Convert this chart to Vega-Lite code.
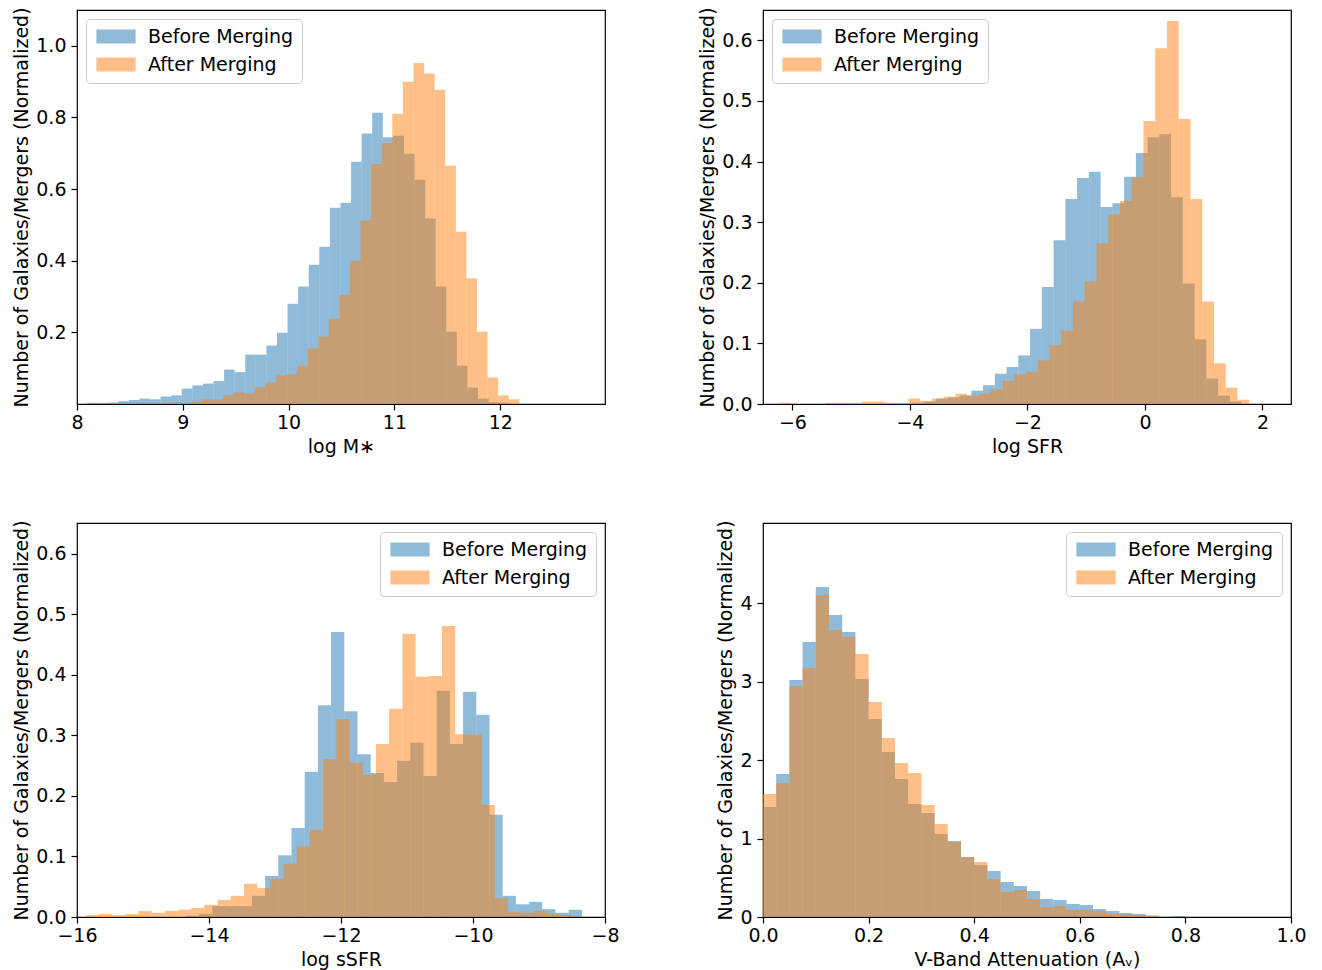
{
  "$schema": "https://vega.github.io/schema/vega-lite/v6.json",
  "background": "white",
  "padding": {"left": 12, "top": 6, "right": 5, "bottom": 5},
  "bounds": "flush",
  "columns": 2,
  "spacing": {"row": 119, "column": 158},
  "resolve": {"scale": {"color": "independent"}, "legend": {"color": "independent"}},
  "config": {
    "font": "DejaVu Sans",
    "view": {"stroke": "black", "strokeWidth": 1.2},
    "axis": {"grid": false, "domain": false, "labelFlush": false, "labelOverlap": false, "tickColor": "black", "tickSize": 6, "tickWidth": 1.2, "labelFont": "DejaVu Sans", "labelFontSize": 19, "labelColor": "black", "titleFont": "DejaVu Sans", "titleFontSize": 19, "titleFontWeight": "normal", "titleColor": "black", "labelPadding": 5},
    "axisX": {"titlePadding": 5, "labelPadding": 3},
    "axisY": {"titlePadding": 4},
    "legend": {"title": null, "labelFont": "DejaVu Sans", "labelFontSize": 19, "labelColor": "black", "fillColor": "white", "strokeColor": "#cccccc", "cornerRadius": 4, "padding": 8, "symbolType": "M-2.8,-1H2.8V1H-2.8Z", "symbolSize": 196, "symbolStrokeWidth": 0, "symbolOpacity": 0.5, "symbolOffset": 12.5, "labelOffset": 22.5, "rowPadding": 8, "offset": 9}
  },
  "concat": [
    {
      "width": 528, "height": 394,
      "data": {"values": [
        {"s":"Before Merging","a":8.09,"b":8.19,"v":0.003},{"s":"Before Merging","a":8.19,"b":8.29,"v":0.003},{"s":"Before Merging","a":8.29,"b":8.39,"v":0.004},{"s":"Before Merging","a":8.39,"b":8.49,"v":0.008},{"s":"Before Merging","a":8.49,"b":8.59,"v":0.011},{"s":"Before Merging","a":8.59,"b":8.69,"v":0.015},{"s":"Before Merging","a":8.69,"b":8.79,"v":0.013},{"s":"Before Merging","a":8.79,"b":8.89,"v":0.021},{"s":"Before Merging","a":8.89,"b":8.99,"v":0.024},{"s":"Before Merging","a":8.99,"b":9.09,"v":0.043},
        {"s":"Before Merging","a":9.09,"b":9.19,"v":0.052},{"s":"Before Merging","a":9.19,"b":9.29,"v":0.057},{"s":"Before Merging","a":9.29,"b":9.39,"v":0.064},{"s":"Before Merging","a":9.39,"b":9.49,"v":0.096},{"s":"Before Merging","a":9.49,"b":9.59,"v":0.089},{"s":"Before Merging","a":9.59,"b":9.69,"v":0.138},{"s":"Before Merging","a":9.69,"b":9.79,"v":0.138},{"s":"Before Merging","a":9.79,"b":9.89,"v":0.163},{"s":"Before Merging","a":9.89,"b":9.99,"v":0.199},{"s":"Before Merging","a":9.99,"b":10.09,"v":0.280},
        {"s":"Before Merging","a":10.09,"b":10.19,"v":0.328},{"s":"Before Merging","a":10.19,"b":10.29,"v":0.389},{"s":"Before Merging","a":10.29,"b":10.39,"v":0.439},{"s":"Before Merging","a":10.39,"b":10.49,"v":0.548},{"s":"Before Merging","a":10.49,"b":10.59,"v":0.562},{"s":"Before Merging","a":10.59,"b":10.69,"v":0.676},{"s":"Before Merging","a":10.69,"b":10.79,"v":0.755},{"s":"Before Merging","a":10.79,"b":10.89,"v":0.813},{"s":"Before Merging","a":10.89,"b":10.99,"v":0.745},{"s":"Before Merging","a":10.99,"b":11.09,"v":0.749},
        {"s":"Before Merging","a":11.09,"b":11.19,"v":0.699},{"s":"Before Merging","a":11.19,"b":11.29,"v":0.626},{"s":"Before Merging","a":11.29,"b":11.39,"v":0.518},{"s":"Before Merging","a":11.39,"b":11.49,"v":0.328},{"s":"Before Merging","a":11.49,"b":11.59,"v":0.202},{"s":"Before Merging","a":11.59,"b":11.69,"v":0.107},{"s":"Before Merging","a":11.69,"b":11.79,"v":0.046},{"s":"Before Merging","a":11.79,"b":11.89,"v":0.015},{"s":"Before Merging","a":11.89,"b":11.99,"v":0.005},{"s":"Before Merging","a":11.99,"b":12.09,"v":0.003},
        {"s":"After Merging","a":8.28,"b":8.38,"v":0.003},{"s":"After Merging","a":8.38,"b":8.48,"v":0.001},{"s":"After Merging","a":8.48,"b":8.58,"v":0.001},{"s":"After Merging","a":8.58,"b":8.68,"v":0.001},{"s":"After Merging","a":8.68,"b":8.78,"v":0.001},{"s":"After Merging","a":8.78,"b":8.88,"v":0.002},{"s":"After Merging","a":8.88,"b":8.98,"v":0.004},{"s":"After Merging","a":8.98,"b":9.08,"v":0.003},{"s":"After Merging","a":9.08,"b":9.18,"v":0.007},{"s":"After Merging","a":9.18,"b":9.28,"v":0.013},
        {"s":"After Merging","a":9.28,"b":9.38,"v":0.013},{"s":"After Merging","a":9.38,"b":9.48,"v":0.024},{"s":"After Merging","a":9.48,"b":9.58,"v":0.032},{"s":"After Merging","a":9.58,"b":9.68,"v":0.029},{"s":"After Merging","a":9.68,"b":9.78,"v":0.046},{"s":"After Merging","a":9.78,"b":9.88,"v":0.060},{"s":"After Merging","a":9.88,"b":9.98,"v":0.080},{"s":"After Merging","a":9.98,"b":10.08,"v":0.083},{"s":"After Merging","a":10.08,"b":10.18,"v":0.107},{"s":"After Merging","a":10.18,"b":10.28,"v":0.155},
        {"s":"After Merging","a":10.28,"b":10.38,"v":0.188},{"s":"After Merging","a":10.38,"b":10.48,"v":0.238},{"s":"After Merging","a":10.48,"b":10.58,"v":0.305},{"s":"After Merging","a":10.58,"b":10.68,"v":0.400},{"s":"After Merging","a":10.68,"b":10.78,"v":0.512},{"s":"After Merging","a":10.78,"b":10.88,"v":0.670},{"s":"After Merging","a":10.88,"b":10.98,"v":0.729},{"s":"After Merging","a":10.98,"b":11.08,"v":0.810},{"s":"After Merging","a":11.08,"b":11.18,"v":0.900},{"s":"After Merging","a":11.18,"b":11.28,"v":0.952},
        {"s":"After Merging","a":11.28,"b":11.38,"v":0.923},{"s":"After Merging","a":11.38,"b":11.48,"v":0.877},{"s":"After Merging","a":11.48,"b":11.58,"v":0.665},{"s":"After Merging","a":11.58,"b":11.68,"v":0.481},{"s":"After Merging","a":11.68,"b":11.78,"v":0.351},{"s":"After Merging","a":11.78,"b":11.88,"v":0.202},{"s":"After Merging","a":11.88,"b":11.98,"v":0.074},{"s":"After Merging","a":11.98,"b":12.08,"v":0.024},{"s":"After Merging","a":12.08,"b":12.18,"v":0.013}
      ]},
      "mark": {"type": "rect", "opacity": 0.5},
      "encoding": {
        "x": {"field": "a", "type": "quantitative", "scale": {"domain": [8, 12.99], "nice": false, "zero": false}, "axis": {"values": [8, 9, 10, 11, 12], "format": "d", "title": "log M∗"}},
        "x2": {"field": "b"},
        "y": {"field": "v", "type": "quantitative", "stack": null, "scale": {"domain": [0, 1.1], "nice": false}, "axis": {"values": [0.2, 0.4, 0.6, 0.8, 1.0], "format": ".1f", "title": "Number of Galaxies/Mergers (Normalized)"}},
        "y2": {"datum": 0},
        "color": {"field": "s", "type": "nominal", "scale": {"domain": ["Before Merging", "After Merging"], "range": ["#1f77b4", "#ff7f0e"]}, "legend": {"orient": "top-left"}}
      }
    },
    {
      "width": 528, "height": 394,
      "data": {"values": [
        {"s":"Before Merging","a":-3.955,"b":-3.755,"v":0.002},{"s":"Before Merging","a":-3.755,"b":-3.555,"v":0.004},{"s":"Before Merging","a":-3.555,"b":-3.355,"v":0.009},{"s":"Before Merging","a":-3.355,"b":-3.155,"v":0.011},{"s":"Before Merging","a":-3.155,"b":-2.955,"v":0.014},{"s":"Before Merging","a":-2.955,"b":-2.755,"v":0.022},{"s":"Before Merging","a":-2.755,"b":-2.555,"v":0.031},{"s":"Before Merging","a":-2.555,"b":-2.355,"v":0.050},{"s":"Before Merging","a":-2.355,"b":-2.155,"v":0.061},{"s":"Before Merging","a":-2.155,"b":-1.955,"v":0.080},
        {"s":"Before Merging","a":-1.955,"b":-1.755,"v":0.124},{"s":"Before Merging","a":-1.755,"b":-1.555,"v":0.193},{"s":"Before Merging","a":-1.555,"b":-1.355,"v":0.270},{"s":"Before Merging","a":-1.355,"b":-1.155,"v":0.338},{"s":"Before Merging","a":-1.155,"b":-0.955,"v":0.373},{"s":"Before Merging","a":-0.955,"b":-0.755,"v":0.383},{"s":"Before Merging","a":-0.755,"b":-0.555,"v":0.325},{"s":"Before Merging","a":-0.555,"b":-0.355,"v":0.331},{"s":"Before Merging","a":-0.355,"b":-0.155,"v":0.375},{"s":"Before Merging","a":-0.155,"b":0.045,"v":0.414},
        {"s":"Before Merging","a":0.045,"b":0.245,"v":0.440},{"s":"Before Merging","a":0.245,"b":0.445,"v":0.445},{"s":"Before Merging","a":0.445,"b":0.645,"v":0.341},{"s":"Before Merging","a":0.645,"b":0.845,"v":0.199},{"s":"Before Merging","a":0.845,"b":1.045,"v":0.107},{"s":"Before Merging","a":1.045,"b":1.245,"v":0.042},{"s":"Before Merging","a":1.245,"b":1.445,"v":0.014},{"s":"Before Merging","a":1.445,"b":1.645,"v":0.004},
        {"s":"After Merging","a":-6.225,"b":-6.025,"v":0.002},{"s":"After Merging","a":-5.425,"b":-5.225,"v":0.002},{"s":"After Merging","a":-5.225,"b":-5.025,"v":0.002},{"s":"After Merging","a":-5.025,"b":-4.825,"v":0.002},{"s":"After Merging","a":-4.825,"b":-4.625,"v":0.004},{"s":"After Merging","a":-4.625,"b":-4.425,"v":0.004},{"s":"After Merging","a":-4.425,"b":-4.225,"v":0.002},{"s":"After Merging","a":-4.225,"b":-4.025,"v":0.002},{"s":"After Merging","a":-4.025,"b":-3.825,"v":0.009},{"s":"After Merging","a":-3.825,"b":-3.625,"v":0.005},
        {"s":"After Merging","a":-3.625,"b":-3.425,"v":0.009},{"s":"After Merging","a":-3.425,"b":-3.225,"v":0.012},{"s":"After Merging","a":-3.225,"b":-3.025,"v":0.017},{"s":"After Merging","a":-3.025,"b":-2.825,"v":0.014},{"s":"After Merging","a":-2.825,"b":-2.625,"v":0.017},{"s":"After Merging","a":-2.625,"b":-2.425,"v":0.024},{"s":"After Merging","a":-2.425,"b":-2.225,"v":0.038},{"s":"After Merging","a":-2.225,"b":-2.025,"v":0.049},{"s":"After Merging","a":-2.025,"b":-1.825,"v":0.053},{"s":"After Merging","a":-1.825,"b":-1.625,"v":0.072},
        {"s":"After Merging","a":-1.625,"b":-1.425,"v":0.097},{"s":"After Merging","a":-1.425,"b":-1.225,"v":0.121},{"s":"After Merging","a":-1.225,"b":-1.025,"v":0.169},{"s":"After Merging","a":-1.025,"b":-0.825,"v":0.202},{"s":"After Merging","a":-0.825,"b":-0.625,"v":0.265},{"s":"After Merging","a":-0.625,"b":-0.425,"v":0.313},{"s":"After Merging","a":-0.425,"b":-0.225,"v":0.335},{"s":"After Merging","a":-0.225,"b":-0.025,"v":0.374},{"s":"After Merging","a":-0.025,"b":0.175,"v":0.467},{"s":"After Merging","a":0.175,"b":0.375,"v":0.587},
        {"s":"After Merging","a":0.375,"b":0.575,"v":0.632},{"s":"After Merging","a":0.575,"b":0.775,"v":0.470},{"s":"After Merging","a":0.775,"b":0.975,"v":0.338},{"s":"After Merging","a":0.975,"b":1.175,"v":0.169},{"s":"After Merging","a":1.175,"b":1.375,"v":0.067},{"s":"After Merging","a":1.375,"b":1.575,"v":0.027},{"s":"After Merging","a":1.575,"b":1.775,"v":0.007}
      ]},
      "mark": {"type": "rect", "opacity": 0.5},
      "encoding": {
        "x": {"field": "a", "type": "quantitative", "scale": {"domain": [-6.5, 2.485], "nice": false, "zero": false}, "axis": {"values": [-6, -4, -2, 0, 2], "format": "d", "title": "log SFR"}},
        "x2": {"field": "b"},
        "y": {"field": "v", "type": "quantitative", "stack": null, "scale": {"domain": [0, 0.65], "nice": false}, "axis": {"values": [0, 0.1, 0.2, 0.3, 0.4, 0.5, 0.6], "format": ".1f", "title": "Number of Galaxies/Mergers (Normalized)"}},
        "y2": {"datum": 0},
        "color": {"field": "s", "type": "nominal", "scale": {"domain": ["Before Merging", "After Merging"], "range": ["#1f77b4", "#ff7f0e"]}, "legend": {"orient": "top-left"}}
      }
    },
    {
      "width": 528, "height": 394,
      "data": {"values": [
        {"s":"Before Merging","a":-14.35,"b":-14.15,"v":0.002},{"s":"Before Merging","a":-14.15,"b":-13.95,"v":0.005},{"s":"Before Merging","a":-13.95,"b":-13.75,"v":0.018},{"s":"Before Merging","a":-13.75,"b":-13.55,"v":0.018},{"s":"Before Merging","a":-13.55,"b":-13.35,"v":0.018},{"s":"Before Merging","a":-13.35,"b":-13.15,"v":0.035},{"s":"Before Merging","a":-13.15,"b":-12.95,"v":0.068},{"s":"Before Merging","a":-12.95,"b":-12.75,"v":0.102},{"s":"Before Merging","a":-12.75,"b":-12.55,"v":0.147},{"s":"Before Merging","a":-12.55,"b":-12.35,"v":0.240},
        {"s":"Before Merging","a":-12.35,"b":-12.15,"v":0.350},{"s":"Before Merging","a":-12.15,"b":-11.95,"v":0.471},{"s":"Before Merging","a":-11.95,"b":-11.75,"v":0.340},{"s":"Before Merging","a":-11.75,"b":-11.55,"v":0.269},{"s":"Before Merging","a":-11.55,"b":-11.35,"v":0.238},{"s":"Before Merging","a":-11.35,"b":-11.15,"v":0.223},{"s":"Before Merging","a":-11.15,"b":-10.95,"v":0.258},{"s":"Before Merging","a":-10.95,"b":-10.75,"v":0.288},{"s":"Before Merging","a":-10.75,"b":-10.55,"v":0.233},{"s":"Before Merging","a":-10.55,"b":-10.35,"v":0.374},
        {"s":"Before Merging","a":-10.35,"b":-10.15,"v":0.286},{"s":"Before Merging","a":-10.15,"b":-9.95,"v":0.372},{"s":"Before Merging","a":-9.95,"b":-9.75,"v":0.334},{"s":"Before Merging","a":-9.75,"b":-9.55,"v":0.169},{"s":"Before Merging","a":-9.55,"b":-9.35,"v":0.035},{"s":"Before Merging","a":-9.35,"b":-9.15,"v":0.021},{"s":"Before Merging","a":-9.15,"b":-8.95,"v":0.025},{"s":"Before Merging","a":-8.95,"b":-8.75,"v":0.013},{"s":"Before Merging","a":-8.75,"b":-8.55,"v":0.007},{"s":"Before Merging","a":-8.55,"b":-8.35,"v":0.012},
        {"s":"After Merging","a":-15.87,"b":-15.67,"v":0.003},{"s":"After Merging","a":-15.67,"b":-15.47,"v":0.005},{"s":"After Merging","a":-15.47,"b":-15.27,"v":0.003},{"s":"After Merging","a":-15.27,"b":-15.07,"v":0.005},{"s":"After Merging","a":-15.07,"b":-14.87,"v":0.010},{"s":"After Merging","a":-14.87,"b":-14.67,"v":0.007},{"s":"After Merging","a":-14.67,"b":-14.47,"v":0.010},{"s":"After Merging","a":-14.47,"b":-14.27,"v":0.012},{"s":"After Merging","a":-14.27,"b":-14.07,"v":0.015},{"s":"After Merging","a":-14.07,"b":-13.87,"v":0.020},
        {"s":"After Merging","a":-13.87,"b":-13.67,"v":0.028},{"s":"After Merging","a":-13.67,"b":-13.47,"v":0.035},{"s":"After Merging","a":-13.47,"b":-13.27,"v":0.055},{"s":"After Merging","a":-13.27,"b":-13.07,"v":0.048},{"s":"After Merging","a":-13.07,"b":-12.87,"v":0.063},{"s":"After Merging","a":-12.87,"b":-12.67,"v":0.088},{"s":"After Merging","a":-12.67,"b":-12.47,"v":0.117},{"s":"After Merging","a":-12.47,"b":-12.27,"v":0.144},{"s":"After Merging","a":-12.27,"b":-12.07,"v":0.261},{"s":"After Merging","a":-12.07,"b":-11.87,"v":0.327},
        {"s":"After Merging","a":-11.87,"b":-11.67,"v":0.255},{"s":"After Merging","a":-11.67,"b":-11.47,"v":0.235},{"s":"After Merging","a":-11.47,"b":-11.27,"v":0.286},{"s":"After Merging","a":-11.27,"b":-11.07,"v":0.344},{"s":"After Merging","a":-11.07,"b":-10.87,"v":0.468},{"s":"After Merging","a":-10.87,"b":-10.67,"v":0.397},{"s":"After Merging","a":-10.67,"b":-10.47,"v":0.398},{"s":"After Merging","a":-10.47,"b":-10.27,"v":0.481},{"s":"After Merging","a":-10.27,"b":-10.07,"v":0.302},{"s":"After Merging","a":-10.07,"b":-9.87,"v":0.301},
        {"s":"After Merging","a":-9.87,"b":-9.67,"v":0.185},{"s":"After Merging","a":-9.67,"b":-9.47,"v":0.031},{"s":"After Merging","a":-9.47,"b":-9.27,"v":0.008},{"s":"After Merging","a":-9.27,"b":-9.07,"v":0.007},{"s":"After Merging","a":-9.07,"b":-8.87,"v":0.010},{"s":"After Merging","a":-8.87,"b":-8.67,"v":0.005},{"s":"After Merging","a":-8.67,"b":-8.47,"v":0.003}
      ]},
      "mark": {"type": "rect", "opacity": 0.5},
      "encoding": {
        "x": {"field": "a", "type": "quantitative", "scale": {"domain": [-16, -8], "nice": false, "zero": false}, "axis": {"values": [-16, -14, -12, -10, -8], "format": "d", "title": "log sSFR"}},
        "x2": {"field": "b"},
        "y": {"field": "v", "type": "quantitative", "stack": null, "scale": {"domain": [0, 0.651], "nice": false}, "axis": {"values": [0, 0.1, 0.2, 0.3, 0.4, 0.5, 0.6], "format": ".1f", "title": "Number of Galaxies/Mergers (Normalized)"}},
        "y2": {"datum": 0},
        "color": {"field": "s", "type": "nominal", "scale": {"domain": ["Before Merging", "After Merging"], "range": ["#1f77b4", "#ff7f0e"]}, "legend": {"orient": "top-right"}}
      }
    },
    {
      "width": 528, "height": 394,
      "data": {"values": [
        {"s":"Before Merging","a":0.000,"b":0.025,"v":1.401},{"s":"Before Merging","a":0.025,"b":0.050,"v":1.822},{"s":"Before Merging","a":0.050,"b":0.075,"v":3.019},{"s":"Before Merging","a":0.075,"b":0.100,"v":3.503},{"s":"Before Merging","a":0.100,"b":0.125,"v":4.204},{"s":"Before Merging","a":0.125,"b":0.150,"v":3.847},{"s":"Before Merging","a":0.150,"b":0.175,"v":3.631},{"s":"Before Merging","a":0.175,"b":0.200,"v":3.032},
        {"s":"Before Merging","a":0.200,"b":0.225,"v":2.522},{"s":"Before Merging","a":0.225,"b":0.250,"v":2.102},{"s":"Before Merging","a":0.250,"b":0.275,"v":1.758},{"s":"Before Merging","a":0.275,"b":0.300,"v":1.439},{"s":"Before Merging","a":0.300,"b":0.325,"v":1.325},{"s":"Before Merging","a":0.325,"b":0.350,"v":1.057},{"s":"Before Merging","a":0.350,"b":0.375,"v":0.968},{"s":"Before Merging","a":0.375,"b":0.400,"v":0.764},
        {"s":"Before Merging","a":0.400,"b":0.425,"v":0.662},{"s":"Before Merging","a":0.425,"b":0.450,"v":0.586},{"s":"Before Merging","a":0.450,"b":0.475,"v":0.446},{"s":"Before Merging","a":0.475,"b":0.500,"v":0.395},{"s":"Before Merging","a":0.500,"b":0.525,"v":0.331},{"s":"Before Merging","a":0.525,"b":0.550,"v":0.229},{"s":"Before Merging","a":0.550,"b":0.575,"v":0.216},{"s":"Before Merging","a":0.575,"b":0.600,"v":0.166},
        {"s":"Before Merging","a":0.600,"b":0.625,"v":0.153},{"s":"Before Merging","a":0.625,"b":0.650,"v":0.102},{"s":"Before Merging","a":0.650,"b":0.675,"v":0.076},{"s":"Before Merging","a":0.675,"b":0.700,"v":0.051},{"s":"Before Merging","a":0.700,"b":0.725,"v":0.038},{"s":"Before Merging","a":0.725,"b":0.750,"v":0.017},{"s":"Before Merging","a":0.750,"b":0.775,"v":0.003},{"s":"Before Merging","a":0.775,"b":0.800,"v":0.013},
        {"s":"After Merging","a":0.000,"b":0.025,"v":1.567},{"s":"After Merging","a":0.025,"b":0.050,"v":1.707},{"s":"After Merging","a":0.050,"b":0.075,"v":2.943},{"s":"After Merging","a":0.075,"b":0.100,"v":3.172},{"s":"After Merging","a":0.100,"b":0.125,"v":4.102},{"s":"After Merging","a":0.125,"b":0.150,"v":3.656},{"s":"After Merging","a":0.150,"b":0.175,"v":3.567},{"s":"After Merging","a":0.175,"b":0.200,"v":3.350},
        {"s":"After Merging","a":0.200,"b":0.225,"v":2.739},{"s":"After Merging","a":0.225,"b":0.250,"v":2.280},{"s":"After Merging","a":0.250,"b":0.275,"v":1.962},{"s":"After Merging","a":0.275,"b":0.300,"v":1.834},{"s":"After Merging","a":0.300,"b":0.325,"v":1.427},{"s":"After Merging","a":0.325,"b":0.350,"v":1.185},{"s":"After Merging","a":0.350,"b":0.375,"v":0.955},{"s":"After Merging","a":0.375,"b":0.400,"v":0.764},
        {"s":"After Merging","a":0.400,"b":0.425,"v":0.701},{"s":"After Merging","a":0.425,"b":0.450,"v":0.484},{"s":"After Merging","a":0.450,"b":0.475,"v":0.318},{"s":"After Merging","a":0.475,"b":0.500,"v":0.344},{"s":"After Merging","a":0.500,"b":0.525,"v":0.229},{"s":"After Merging","a":0.525,"b":0.550,"v":0.127},{"s":"After Merging","a":0.550,"b":0.575,"v":0.140},{"s":"After Merging","a":0.575,"b":0.600,"v":0.089},
        {"s":"After Merging","a":0.600,"b":0.625,"v":0.089},{"s":"After Merging","a":0.625,"b":0.650,"v":0.076},{"s":"After Merging","a":0.650,"b":0.675,"v":0.038},{"s":"After Merging","a":0.675,"b":0.700,"v":0.038},{"s":"After Merging","a":0.700,"b":0.725,"v":0.025},{"s":"After Merging","a":0.725,"b":0.750,"v":0.017}
      ]},
      "mark": {"type": "rect", "opacity": 0.5},
      "encoding": {
        "x": {"field": "a", "type": "quantitative", "scale": {"domain": [0, 1], "nice": false, "zero": false}, "axis": {"values": [0, 0.2, 0.4, 0.6, 0.8, 1.0], "format": ".1f", "title": "V-Band Attenuation (Aᵥ)"}},
        "x2": {"field": "b"},
        "y": {"field": "v", "type": "quantitative", "stack": null, "scale": {"domain": [0, 5.02], "nice": false}, "axis": {"values": [0, 1, 2, 3, 4], "format": "d", "title": "Number of Galaxies/Mergers (Normalized)"}},
        "y2": {"datum": 0},
        "color": {"field": "s", "type": "nominal", "scale": {"domain": ["Before Merging", "After Merging"], "range": ["#1f77b4", "#ff7f0e"]}, "legend": {"orient": "top-right"}}
      }
    }
  ]
}
